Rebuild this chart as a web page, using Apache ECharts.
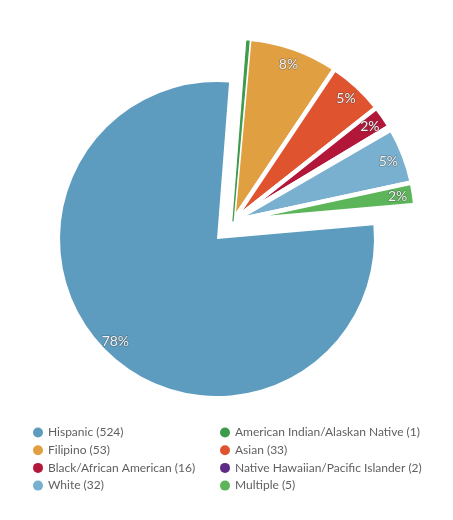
<!DOCTYPE html>
<html>
<head>
<meta charset="utf-8">
<script src="https://cdn.jsdelivr.net/npm/echarts@6/dist/echarts.min.js"></script>
<style>
  html, body { margin: 0; padding: 0; background: #ffffff; }
  #chart { width: 453px; height: 520px; }
</style>
</head>
<body>
<div id="chart"></div>
<script>
// Student enrollment by ethnicity
const categories = [
  'Hispanic',
  'American Indian/Alaskan Native',
  'Filipino',
  'Asian',
  'Black/African American',
  'Native Hawaiian/Pacific Islander',
  'White',
  'Multiple'
];
const counts = [524, 1, 53, 33, 16, 2, 32, 5];
// share of total, in percent, as labelled on the slices
const shares = [78, 0.2, 8, 5, 2, 0.3, 5, 2];
const colors = ['#5d9cbf', '#3f9b4c', '#e0a042', '#e0532f', '#b2173a', '#5e2a86', '#7ab0cf', '#5db55a'];

const legendLeft = ['Hispanic', 'Filipino', 'Black/African American', 'White'];
const legendRight = ['American Indian/Alaskan Native', 'Asian', 'Native Hawaiian/Pacific Islander', 'Multiple'];

const HIDDEN = 'rgba(0,0,0,0)';
const mainCenter = [217, 239];
const groupCenter = [233, 221];
const START = 5;

// helper: build pie data where only the items passing `keep` are painted
function pieData(keep, style) {
  return categories.map((name, i) => ({
    name,
    value: shares[i],
    itemStyle: keep(i) ? Object.assign({ color: colors[i] }, style || {}) : { color: HIDDEN, borderWidth: 0 }
  }));
}

const labelStyle = {
  show: true,
  position: 'inside',
  color: '#f3f3f3',
  fontFamily: 'Lato',
  fontSize: 14,
  textBorderColor: 'rgba(60,60,60,0.5)',
  textBorderWidth: 1.2
};

function labelData(keep) {
  return categories.map((name, i) => ({
    name,
    value: shares[i],
    itemStyle: { color: HIDDEN, borderWidth: 0 },
    label: { show: keep(i) && shares[i] >= 1 }
  }));
}

const common = {
  type: 'pie',
  startAngle: START,
  clockwise: true,
  silent: true,
  animation: false,
  avoidLabelOverlap: false,
  labelLine: { show: false },
  emphasis: { disabled: true }
};

const chart = echarts.init(document.getElementById('chart'), null, { renderer: 'canvas' });

const legendBase = {
  orient: 'vertical',
  top: 426,
  padding: 0,
  icon: 'circle',
  itemWidth: 10,
  itemHeight: 10,
  itemGap: 4.7,
  selectedMode: false,
  formatter: name => name + ' (' + counts[categories.indexOf(name)] + ')',
  textStyle: { color: '#606060', fontFamily: 'Lato', fontSize: 12, lineHeight: 13 }
};
const legendItems = names => names.map(n => ({ name: n, itemStyle: { color: colors[categories.indexOf(n)] } }));

chart.setOption({
  backgroundColor: '#ffffff',
  legend: [
    Object.assign({}, legendBase, { left: 33, itemTextGap: 5, data: legendItems(legendLeft) }),
    Object.assign({}, legendBase, { left: 220, itemTextGap: 7.5, data: legendItems(legendRight) })
  ],
  series: [
    // the large slice
    Object.assign({}, common, {
      z: 2,
      center: mainCenter,
      radius: [0, 157],
      label: { show: false },
      data: pieData(i => i === 0)
    }),
    // the smaller slices, pulled out together as one group
    Object.assign({}, common, {
      z: 3,
      center: groupCenter,
      radius: [0, 183],
      label: { show: false },
      data: pieData(i => i !== 0, { borderColor: '#ffffff', borderWidth: 4.5 })
    }),
    // the sliver, drawn on top so the white borders do not swallow it
    Object.assign({}, common, {
      z: 4,
      center: groupCenter,
      radius: [0, 180.5],
      label: { show: false },
      data: pieData(i => i === 1, { borderColor: colors[1], borderWidth: 1.2 })
    }),
    // percentage labels near the rim
    Object.assign({}, common, {
      z: 5,
      center: mainCenter,
      radius: [126, 157],
      label: Object.assign({}, labelStyle, { formatter: p => shares[p.dataIndex] + '%' }),
      data: labelData(i => i === 0)
    }),
    Object.assign({}, common, {
      z: 5,
      center: groupCenter,
      radius: [146, 181],
      label: Object.assign({}, labelStyle, { formatter: p => shares[p.dataIndex] + '%' }),
      data: labelData(i => i !== 0)
    })
  ]
});
</script>
</body>
</html>
